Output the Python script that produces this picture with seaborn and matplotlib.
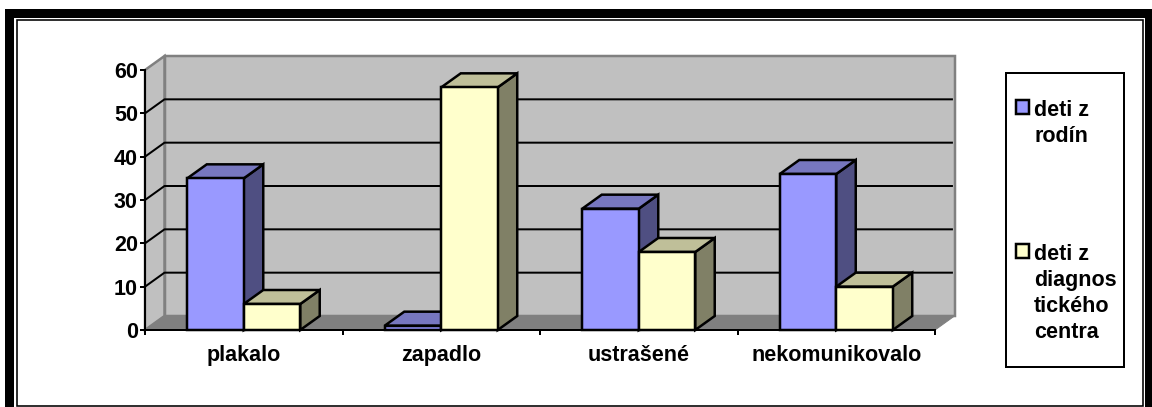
import matplotlib
matplotlib.use("Agg")
import matplotlib.pyplot as plt
from matplotlib.patches import Polygon, Rectangle, Patch
from matplotlib.transforms import Affine2D
import seaborn as sns
import pandas as pd

categories = ["plakalo", "zapadlo", "ustrašené", "nekomunikovalo"]
series_names = ["deti z\nrodín", "deti z\ndiagnos\ntického\ncentra"]
family_values = [35, 1, 28, 36]
centre_values = [6, 56, 18, 10]
y_ticks = [0, 10, 20, 30, 40, 50, 60]

W, H = 1152, 407
PX = 0.72  # points per pixel at dpi 100
FRONT = ["#9999FF", "#FFFFCC"]
TOPS = ["#7777BF", "#BFBF99"]
SIDES = ["#4F4F82", "#808066"]
WALL, FLOOR, GREY = "#C0C0C0", "#808080", "#808080"
FONT = 15.5
EM = FONT / PX

sns.set_theme(style="white")
plt.rcParams["font.family"] = ["Liberation Sans", "DejaVu Sans"]
plt.rcParams["font.weight"] = "bold"

df = pd.DataFrame({
    "category": categories * 2,
    "value": family_values + centre_values,
    "series": [series_names[0]] * 4 + [series_names[1]] * 4,
})

fig = plt.figure(figsize=(W / 100, H / 100), dpi=100, facecolor="white")
ax = fig.add_axes([145 / W, (H - 330) / H, 790 / W, 260 / H], facecolor="none")
px = Affine2D().scale(1, -1).translate(0, H)  # pixel frame for the page decoration

sns.barplot(data=df, x="category", y="value", hue="series", order=categories,
            hue_order=series_names, palette=FRONT, saturation=1, width=0.572,
            gap=0, edgecolor="black", linewidth=2.5 * PX, legend=False, ax=ax)
ax.set_xlim(-0.5, 3.5)
ax.set_ylim(0, 60)
ax.set_xlabel("")
ax.set_ylabel("")

# depth of the pseudo-3D projection, in data units
dx = 19.5 / 197.5
dy = 14 / 260 * 60
x0, x1, y0, y1 = -0.5, 3.5, 0, 60


def poly(points, color, z, edge="none", lw=0):
    ax.add_patch(Polygon(points, closed=True, facecolor=color, edgecolor=edge,
                         linewidth=lw * PX, zorder=z, clip_on=False, joinstyle="miter"))


# walls and floor
poly([(x0 + dx, y0 + dy), (x1 + dx, y0 + dy), (x1 + dx, y1 + dy), (x0 + dx, y1 + dy)], WALL, 0.5, GREY, 2.5)
poly([(x0, y0), (x0 + dx, y0 + dy), (x0 + dx, y1 + dy), (x0, y1)], WALL, 0.5, GREY, 2.5)
poly([(x0, y0), (x1, y0), (x1 + dx, y0 + dy), (x0 + dx, y0 + dy)], FLOOR, 0.6, GREY, 1)

# gridlines on both walls
for v in y_ticks[1:-1]:
    ax.plot([x0, x0 + dx, x1 + dx - 0.008], [v, v + dy, v + dy], color="black",
            lw=2 * PX, zorder=0.8, clip_on=False, solid_capstyle="butt")

# bar depth faces, drawn from the bars seaborn made
for s, container in enumerate(ax.containers):
    for bar in container:
        bx, bw, bh = bar.get_x(), bar.get_width(), bar.get_height()
        base = 3 + 2 * s
        poly([(bx + bw, 0), (bx + bw + dx, dy), (bx + bw + dx, bh + dy), (bx + bw, bh)],
             SIDES[s], base, "black", 2.5)
        poly([(bx, bh), (bx + dx, bh + dy), (bx + bw + dx, bh + dy), (bx + bw, bh)],
             TOPS[s], base, "black", 2.5)
        bar.set_zorder(base + 1)
        bar.set_clip_on(False)

# axes
sns.despine(ax=ax, top=True, right=True)
for side in ("left", "bottom"):
    ax.spines[side].set_color("black")
    ax.spines[side].set_linewidth(2 * PX)
    ax.spines[side].set_zorder(2.5)
ax.set_yticks(y_ticks)
ax.set_xticks(range(len(categories)))
ax.set_xticklabels(categories)
ax.set_xticks([i - 0.5 for i in range(len(categories) + 1)], minor=True)
ax.tick_params(axis="y", left=True, length=5 * PX, width=2 * PX, color="black",
               labelsize=FONT, labelcolor="black", pad=1.5)
ax.tick_params(axis="x", which="major", bottom=False, length=0, labelsize=FONT,
               labelcolor="black", pad=10.7)
ax.tick_params(axis="x", which="minor", bottom=True, length=5 * PX, width=2 * PX, color="black")
for t in ax.get_xticklabels() + ax.get_yticklabels():
    t.set_fontweight("bold")

# legend
fig.add_artist(Rectangle((1006, 73), 118, 294, transform=px, facecolor="white",
                         edgecolor="black", linewidth=2 * PX))
handles = [Patch(facecolor=c, edgecolor="black", linewidth=2.5 * PX) for c in FRONT]
leg = fig.legend(handles, series_names, loc="upper left",
                 bbox_to_anchor=(1016 / W, (H - 100) / H), frameon=False, borderpad=0,
                 borderaxespad=0, handlelength=13 / EM, handleheight=13 / EM,
                 handletextpad=5 / EM, labelspacing=4.52,
                 prop={"size": FONT, "weight": "bold"})
for t in leg.get_texts():
    t.set_linespacing(1.31)
    t.set_color("black")
for row in leg._legend_handle_box.get_children()[0].get_children():
    row.align = "top"

# page frame
fig.add_artist(Rectangle((5, 9), W, H, transform=px, facecolor="black", edgecolor="none", zorder=-5))
fig.add_artist(Rectangle((14, 18), 1131, H, transform=px, facecolor="white", edgecolor="none", zorder=-4))
fig.add_artist(Rectangle((17, 20), 1125.5, 386, transform=px, facecolor="white", edgecolor="black",
                         linewidth=1.6 * PX, zorder=-3))

fig.savefig("out.png", dpi=100, facecolor="white")
